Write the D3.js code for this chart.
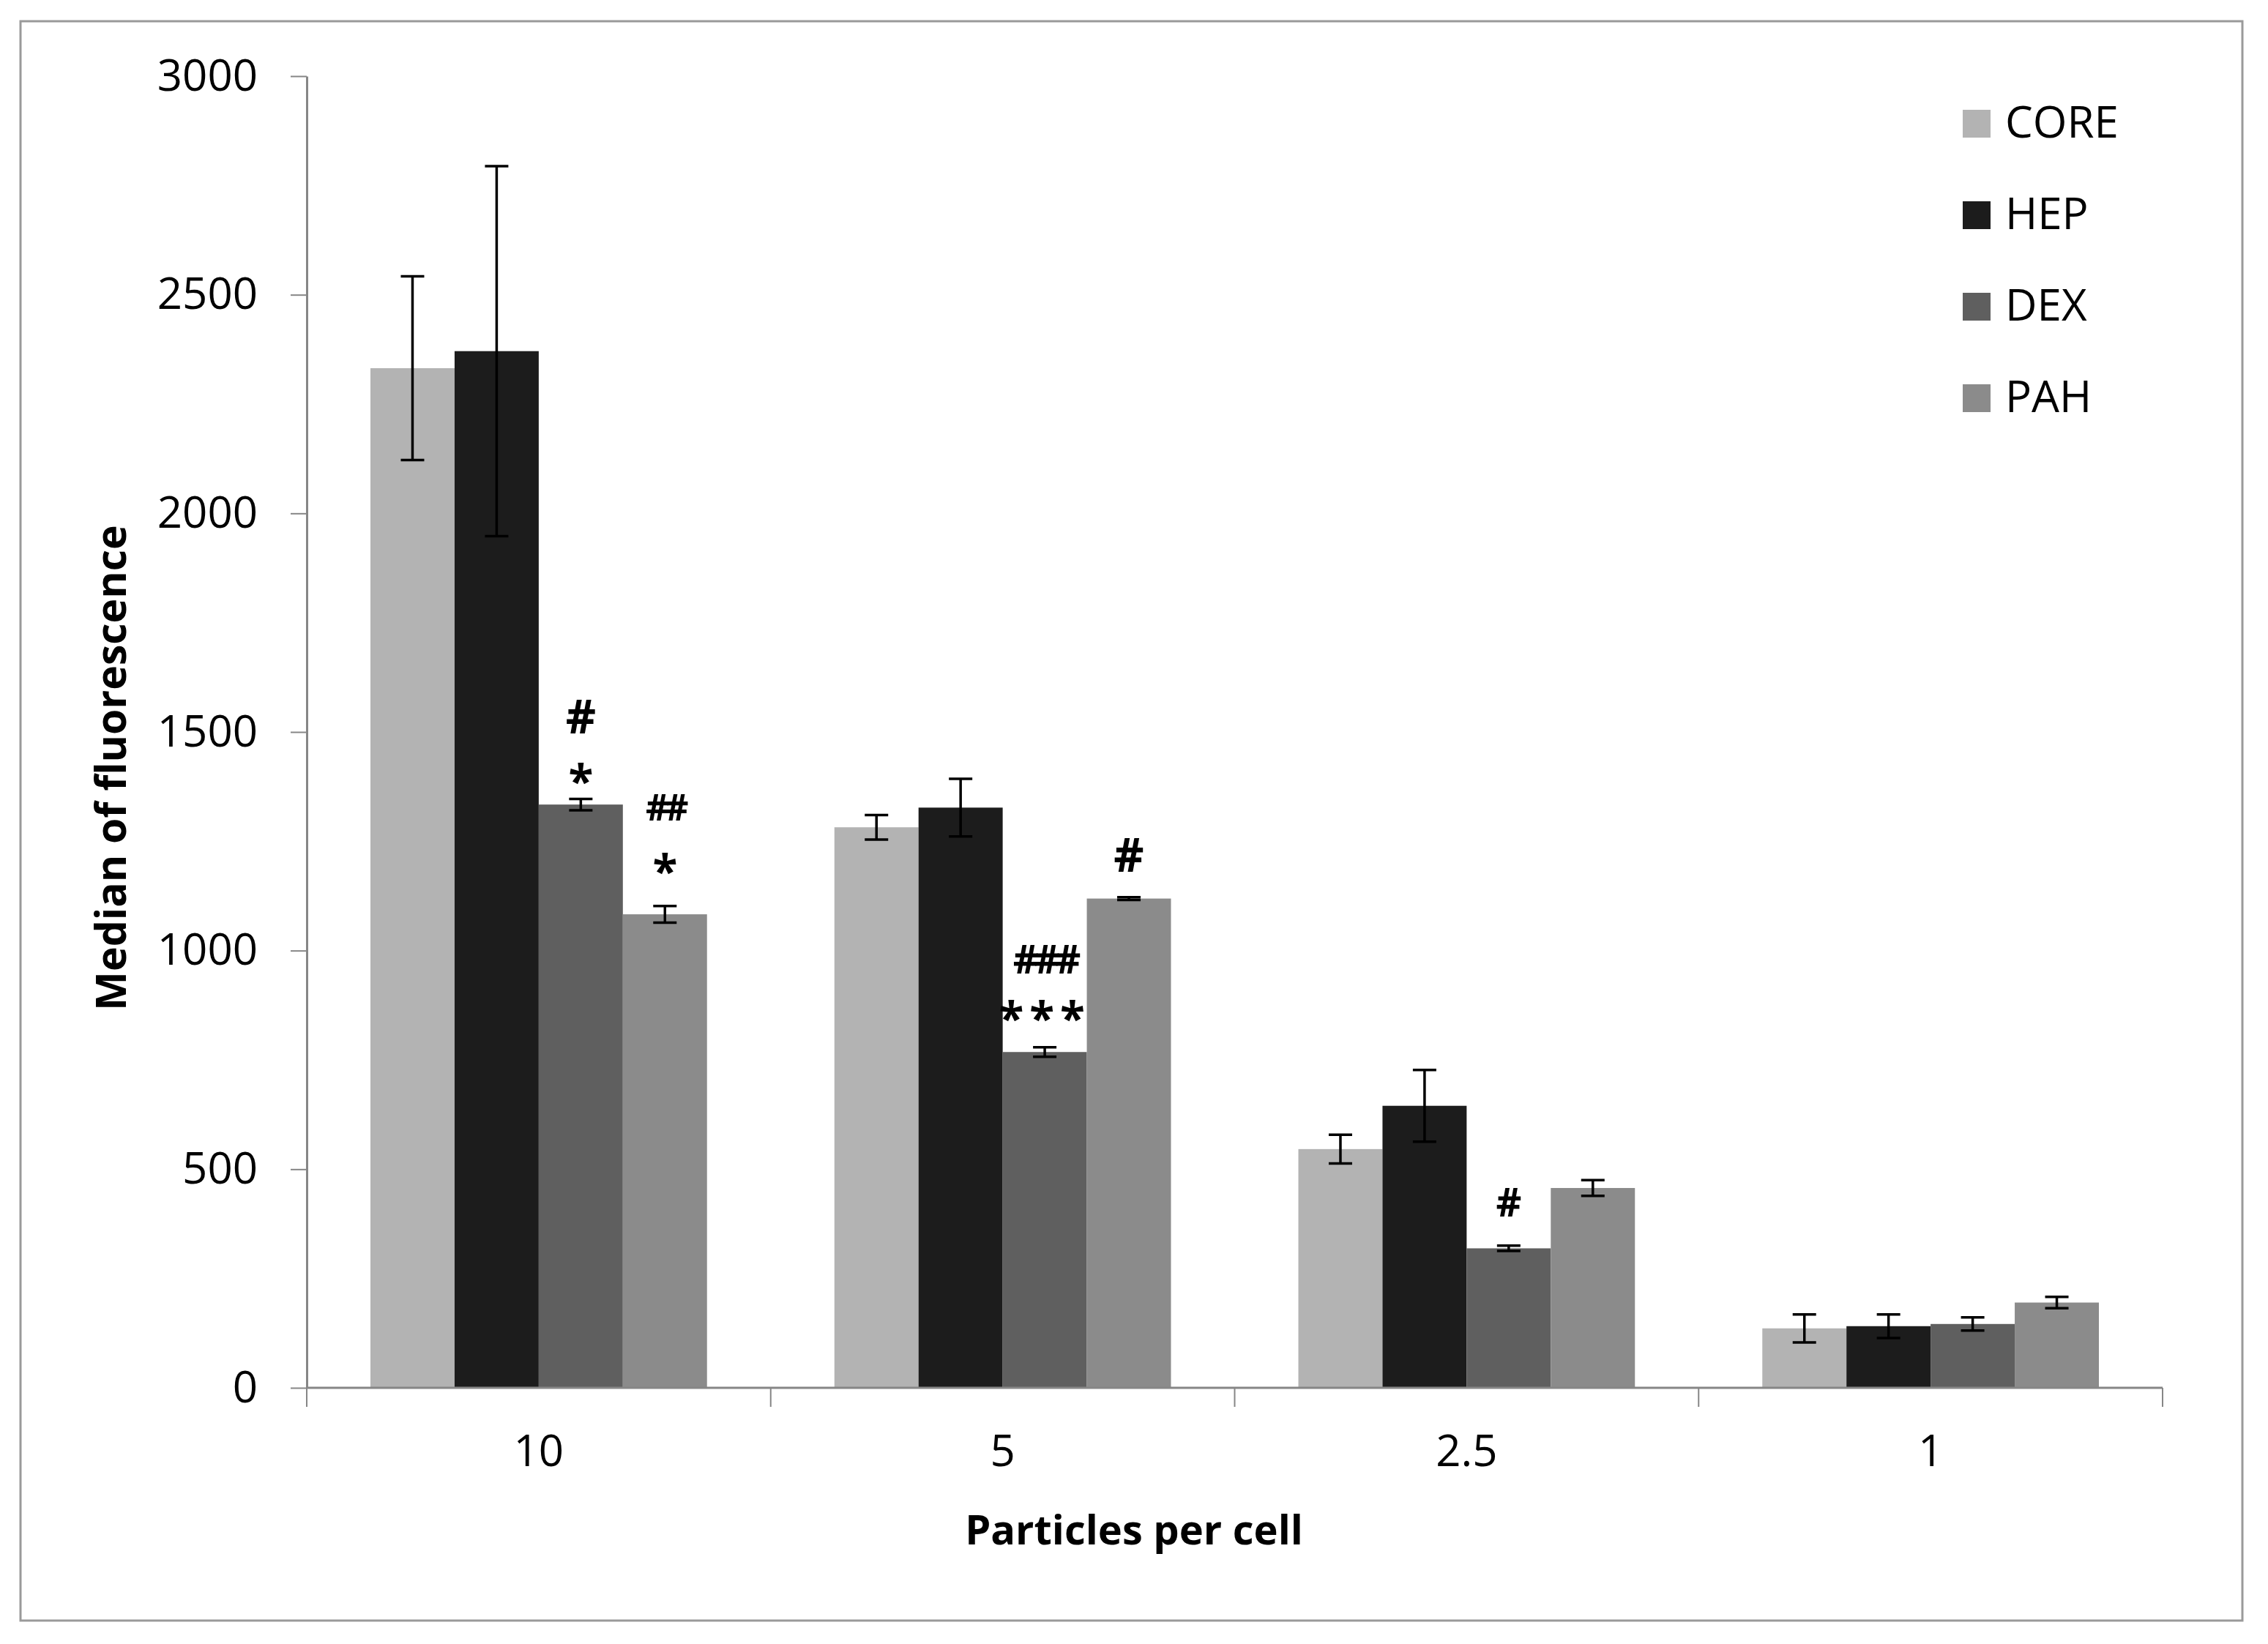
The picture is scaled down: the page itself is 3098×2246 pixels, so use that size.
<!DOCTYPE html>
<html>
<head>
<meta charset="utf-8">
<script src="https://cdn.jsdelivr.net/npm/d3@7"></script>
<style>
  html, body { margin: 0; padding: 0; background: #ffffff; }
  svg { display: block; }
  text { font-family: "Open Sans", "DejaVu Sans", sans-serif; fill: #000; }
</style>
</head>
<body>
<script>
// ---------------- data ----------------
const categories = ["10", "5", "2.5", "1"];
const seriesNames = ["CORE", "HEP", "DEX", "PAH"];
const coreValues = [2332, 1282, 546, 136];
const hepValues  = [2371, 1327, 645, 141];
const dexValues  = [1334, 768, 319, 146];
const pahValues  = [1083, 1119, 457, 195];
const coreErrors = [210, 28, 33, 32];
const hepErrors  = [423, 66, 82, 27];
const dexErrors  = [13, 11, 6, 15];
const pahErrors  = [19, 3, 18, 13];
const yTicks = [0, 500, 1000, 1500, 2000, 2500, 3000];
const yLabel = "Median of fluorescence";
const xLabel = "Particles per cell";
// significance marks (text only), listed bottom to top
const annotations = [
  { category: "10",  series: "DEX", marks: ["*", "#"] },
  { category: "10",  series: "PAH", marks: ["*", "##"] },
  { category: "5",   series: "DEX", marks: ["***", "###"] },
  { category: "5",   series: "PAH", marks: ["#"] },
  { category: "2.5", series: "DEX", marks: ["#"] }
];

// ---------------- layout / style ----------------
const W = 3098, H = 2246;
const margin = { left: 419, right: 144, top: 104, bottom: 350 };
const colors = { CORE: "#b3b3b3", HEP: "#1c1c1c", DEX: "#5f5f5f", PAH: "#8b8b8b" };
const axisColor = "#868686";
// annotation line layout: pixel offset of mark centre above the error-bar top, and font size
const markLayout = {
  "10|DEX": [{ dy: 39, fs: 62 }, { dy: 112, fs: 64 }],
  "10|PAH": [{ dy: 62, fs: 62 }, { dy: 135, fs: 50 }],
  "5|DEX":  [{ dy: 54, fs: 62 }, { dy: 120, fs: 54 }],
  "5|PAH":  [{ dy: 58, fs: 64 }],
  "2.5|DEX":[{ dy: 59, fs: 54 }]
};

const valuesBySeries = { CORE: coreValues, HEP: hepValues, DEX: dexValues, PAH: pahValues };
const errorsBySeries = { CORE: coreErrors, HEP: hepErrors, DEX: dexErrors, PAH: pahErrors };

const svg = d3.select("body").append("svg").attr("width", W).attr("height", H);

// outer frame
svg.append("rect").attr("x", 28).attr("y", 29).attr("width", 3035).attr("height", 2185)
  .attr("fill", "none").attr("stroke", "#9a9a9a").attr("stroke-width", 3);

const x0 = d3.scaleBand().domain(categories).range([margin.left, W - margin.right]).paddingInner(0).paddingOuter(0);
const x1 = d3.scaleBand().domain(seriesNames).range([0, x0.bandwidth()]).paddingInner(0).paddingOuter(0.757);
const y = d3.scaleLinear().domain([0, 3000]).range([H - margin.bottom, margin.top]);

// y axis
const yAxis = svg.append("g").attr("transform", `translate(${margin.left},0)`)
  .call(d3.axisLeft(y).tickValues(yTicks).tickSizeInner(22).tickSizeOuter(0).tickPadding(45).tickFormat(d3.format("d")));
yAxis.select(".domain").attr("stroke", axisColor).attr("stroke-width", 3);
yAxis.selectAll(".tick line").attr("stroke", axisColor).attr("stroke-width", 2);
yAxis.selectAll(".tick text").attr("font-size", 60).attr("font-family", "Open Sans").attr("fill", "#000");

// bars
const rows = [];
categories.forEach((c, i) => seriesNames.forEach(s => rows.push({
  category: c, series: s, value: valuesBySeries[s][i], err: errorsBySeries[s][i]
})));

const gBars = svg.append("g");
gBars.selectAll("rect").data(rows).join("rect")
  .attr("x", d => x0(d.category) + x1(d.series))
  .attr("width", x1.bandwidth())
  .attr("y", d => y(d.value))
  .attr("height", d => y(0) - y(d.value))
  .attr("fill", d => colors[d.series]);

// x axis (line + boundary ticks + labels)
const baseY = y(0);
const xAxisG = svg.append("g");
xAxisG.append("line").attr("x1", x0.range()[0]).attr("x2", x0.range()[1])
  .attr("y1", baseY).attr("y2", baseY).attr("stroke", axisColor).attr("stroke-width", 3);
const boundaries = categories.map(c => x0(c)).concat([x0.range()[1]]);
xAxisG.selectAll(".bt").data(boundaries).join("line").attr("class", "bt")
  .attr("x1", d => d).attr("x2", d => d).attr("y1", baseY).attr("y2", baseY + 26)
  .attr("stroke", axisColor).attr("stroke-width", 2);
xAxisG.selectAll(".xl").data(categories).join("text").attr("class", "xl")
  .attr("x", d => x0(d) + x0.bandwidth() / 2).attr("y", baseY + 107)
  .attr("text-anchor", "middle").attr("font-size", 60).text(d => d);

// error bars
const cap = 16;
const gErr = svg.append("g").attr("stroke", "#000").attr("stroke-width", 3.5);
rows.forEach(d => {
  const cx = x0(d.category) + x1(d.series) + x1.bandwidth() / 2;
  const yt = y(d.value + d.err), yb = y(d.value - d.err);
  gErr.append("line").attr("x1", cx).attr("x2", cx).attr("y1", yt).attr("y2", yb);
  gErr.append("line").attr("x1", cx - cap).attr("x2", cx + cap).attr("y1", yt).attr("y2", yt);
  gErr.append("line").attr("x1", cx - cap).attr("x2", cx + cap).attr("y1", yb).attr("y2", yb);
});

// significance marks
const gMarks = svg.append("g");
annotations.forEach(a => {
  const i = categories.indexOf(a.category);
  const v = valuesBySeries[a.series][i] + errorsBySeries[a.series][i];
  const cx = x0(a.category) + x1(a.series) + x1.bandwidth() / 2;
  const lay = markLayout[a.category + "|" + a.series];
  a.marks.forEach((m, k) => {
    const L = lay[k];
    const isStar = m[0] === "*";
    const centre = y(v) - L.dy;
    const base = centre + (isStar ? 0.6 : 0.357) * L.fs;
    gMarks.append("text").attr("x", cx).attr("y", base)
      .attr("text-anchor", "middle").attr("font-size", L.fs).attr("font-weight", 700)
      .attr("letter-spacing", isStar ? (m.length > 1 ? 8 : 0) : (m.length > 1 ? -6 : 0))
      .text(m);
  });
});

// axis titles
svg.append("text").attr("transform", `translate(172,1049) rotate(-90)`)
  .attr("text-anchor", "middle").attr("font-size", 57).attr("font-weight", 700).text(yLabel);
svg.append("text").attr("x", 1549).attr("y", 2110)
  .attr("text-anchor", "middle").attr("font-size", 56).attr("font-weight", 700).text(xLabel);

// legend
const lg = svg.append("g");
seriesNames.forEach((s, i) => {
  const by = 188 + i * 125;
  lg.append("rect").attr("x", 2681).attr("y", by - 38).attr("width", 38).attr("height", 38).attr("fill", colors[s]);
  lg.append("text").attr("x", 2739).attr("y", by).attr("font-size", 60).text(s);
});
</script>
</body>
</html>
